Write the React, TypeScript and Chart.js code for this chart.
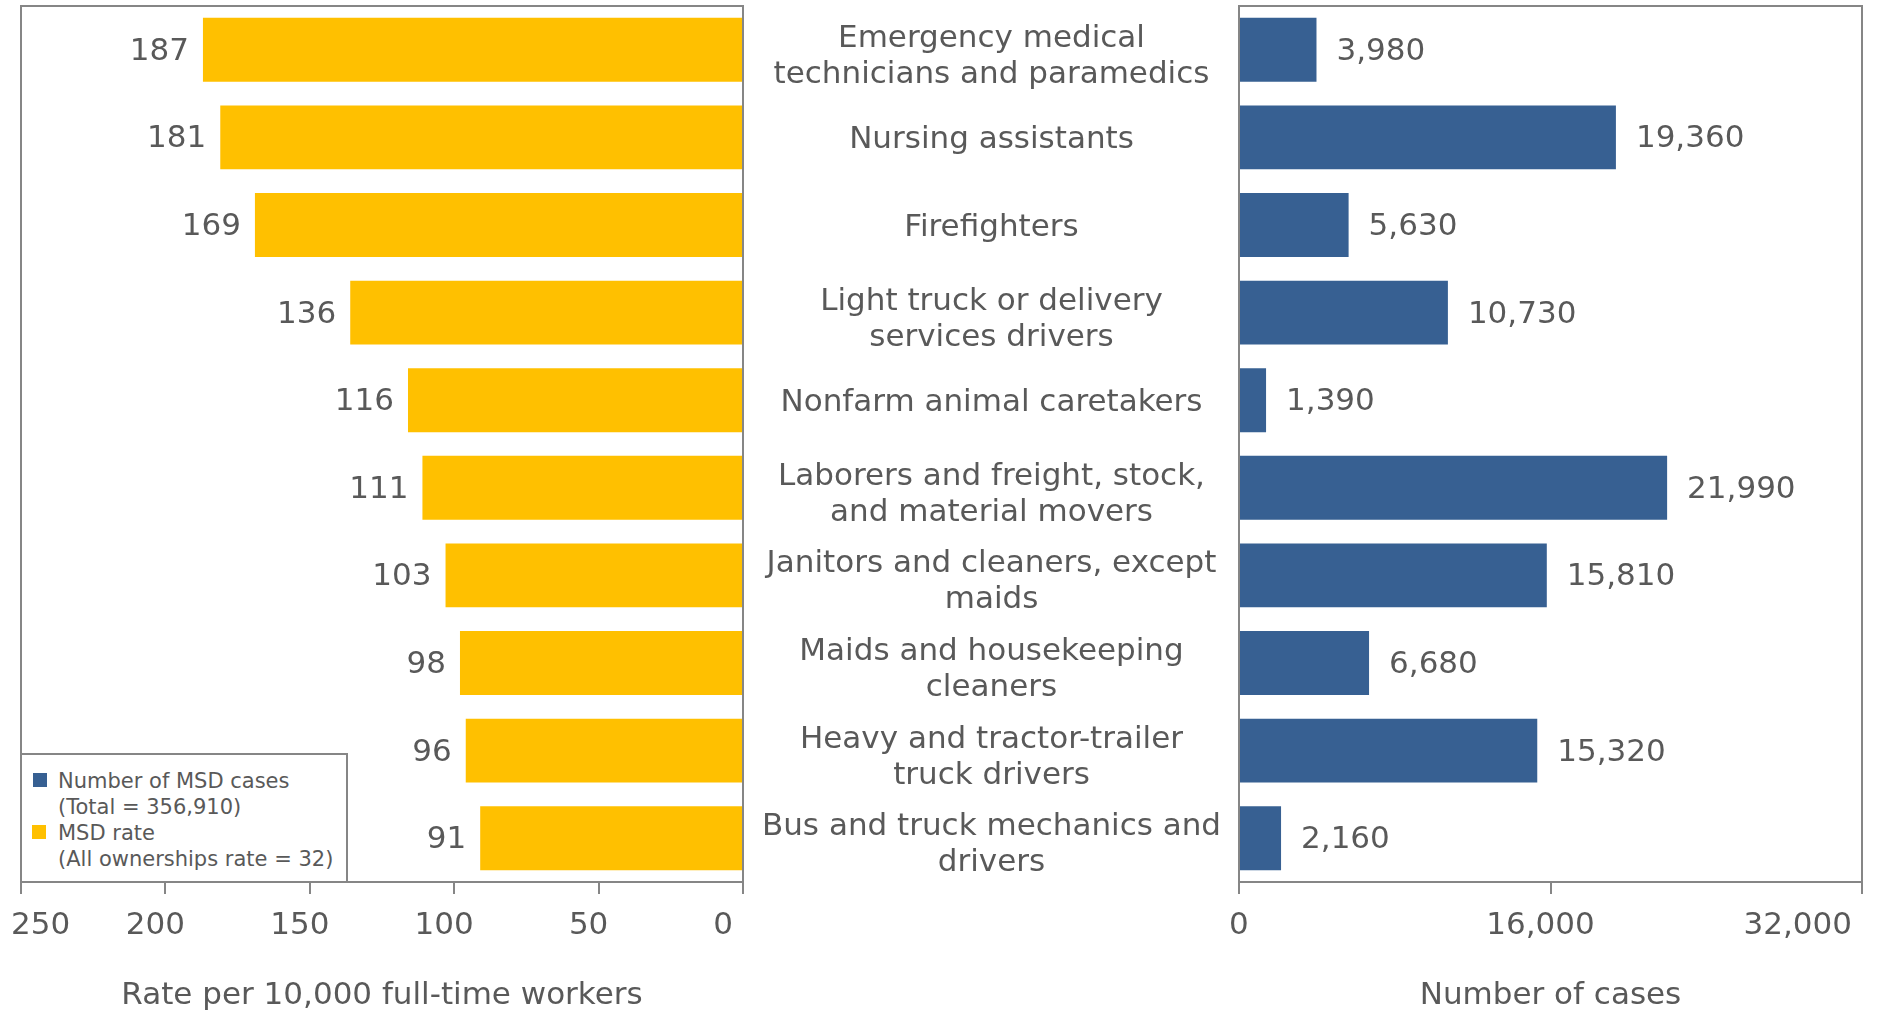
import React, { useEffect, useRef } from 'react';
import { Chart, registerables } from 'chart.js';

Chart.register(...registerables);

// ---------- data ----------
const categories: string[][] = [
  ['Emergency medical', 'technicians and paramedics'],
  ['Nursing assistants'],
  ['Firefighters'],
  ['Light truck or delivery', 'services drivers'],
  ['Nonfarm animal caretakers'],
  ['Laborers and freight, stock,', 'and material movers'],
  ['Janitors and cleaners, except', 'maids'],
  ['Maids and housekeeping', 'cleaners'],
  ['Heavy and tractor-trailer', 'truck drivers'],
  ['Bus and truck mechanics and', 'drivers'],
];
const msdRate: number[] = [187, 181, 169, 136, 116, 111, 103, 98, 96, 91];
const msdCases: number[] = [3980, 19360, 5630, 10730, 1390, 21990, 15810, 6680, 15320, 2160];
const rateTicks: number[] = [0, 50, 100, 150, 200, 250];
const caseTicks: number[] = [0, 16000, 32000];
const rateAxisTitle = 'Rate per 10,000 full-time workers';
const caseAxisTitle = 'Number of cases';
const legendCases = ['Number of MSD cases', '(Total = 356,910)'];
const legendRate = ['MSD rate', '(All ownerships rate = 32)'];

// ---------- styles ----------
const GOLD = '#FFC000';
const BLUE = '#376092';
const TEXT = '#595959';
const LINE = '#868686';
const FONT = '"DejaVu Sans", Verdana, sans-serif';
const FS = 31;

const fmt = (v: number) => v.toLocaleString('en-US');

const framePlugin = {
  id: 'frame',
  afterDraw(chart: any) {
    const { ctx, chartArea } = chart;
    const { left, top, right, bottom } = chartArea;
    ctx.save();
    ctx.strokeStyle = LINE;
    ctx.lineWidth = 2;
    ctx.strokeRect(left, top, right - left, bottom - top);
    ctx.restore();
  },
};

const valueLabelPlugin = (side: 'left' | 'right') => ({
  id: 'valueLabels',
  afterDatasetsDraw(chart: any) {
    const { ctx } = chart;
    const meta = chart.getDatasetMeta(0);
    const data = chart.data.datasets[0].data as number[];
    ctx.save();
    ctx.font = `${FS}px ${FONT}`;
    ctx.fillStyle = TEXT;
    ctx.textBaseline = 'middle';
    meta.data.forEach((bar: any, i: number) => {
      const label = fmt(data[i]);
      if (side === 'left') {
        ctx.textAlign = 'right';
        ctx.fillText(label, bar.x - 14, bar.y + 2);
      } else {
        ctx.textAlign = 'left';
        ctx.fillText(label, bar.x + 20, bar.y + 2);
      }
    });
    ctx.restore();
  },
});

const categoryLabelPlugin = {
  id: 'categoryLabels',
  afterDraw(chart: any) {
    const { ctx, chartArea } = chart;
    const yScale = chart.scales.y;
    const cx = chartArea.left / 2;
    const lh = 36;
    ctx.save();
    ctx.font = `${FS}px ${FONT}`;
    ctx.fillStyle = TEXT;
    ctx.textAlign = 'center';
    ctx.textBaseline = 'middle';
    categories.forEach((lines, i) => {
      const yc = yScale.getPixelForValue(i);
      const start = yc - ((lines.length - 1) * lh) / 2 + (lines.length > 1 ? 7 : 3);
      lines.forEach((t, j) => ctx.fillText(t, cx, start + j * lh));
    });
    ctx.restore();
  },
};

const H = 1011;
const AXIS_H = 129;

function makeXScale(min: number, max: number, tickValues: number[], reverse: boolean, title: string) {
  return {
    type: 'linear',
    min,
    max,
    reverse,
    position: 'bottom',
    afterBuildTicks: (scale: any) => {
      scale.ticks = tickValues.map((v) => ({ value: v }));
    },
    afterFit: (scale: any) => {
      scale.height = AXIS_H;
    },
    ticks: {
      font: { family: FONT, size: FS },
      color: TEXT,
      padding: 13,
      align: 'inner',
      labelOffset: -10,
      autoSkip: false,
      maxRotation: 0,
      callback: (v: any) => fmt(Number(v)),
    },
    grid: {
      drawOnChartArea: false,
      drawTicks: true,
      tickLength: 12,
      color: LINE,
      lineWidth: 2,
    },
    border: { display: true, color: LINE, width: 2 },
    title: {
      display: true,
      text: title,
      font: { family: FONT, size: FS, lineHeight: 1.0 },
      color: TEXT,
      padding: { top: 0, bottom: 0 },
    },
  };
}

function makeYScale(position: 'left' | 'right') {
  return {
    type: 'category',
    position,
    ticks: { display: false },
    grid: { display: false, drawTicks: false },
    border: { display: true, color: LINE, width: 2 },
  };
}

export default function App() {
  const leftRef = useRef<HTMLCanvasElement | null>(null);
  const rightRef = useRef<HTMLCanvasElement | null>(null);

  useEffect(() => {
    const labels = categories.map((c) => c.join(' '));
    const left = new Chart(leftRef.current as HTMLCanvasElement, {
      type: 'bar',
      data: {
        labels,
        datasets: [
          {
            label: 'MSD rate',
            data: msdRate,
            backgroundColor: GOLD,
            barPercentage: 0.73,
            categoryPercentage: 1,
          },
        ],
      },
      options: {
        indexAxis: 'y',
        animation: false,
        responsive: false,
        maintainAspectRatio: false,
        layout: { padding: { left: 21, right: 17, top: 6, bottom: 0 } },
        plugins: { legend: { display: false }, tooltip: { enabled: false } },
        scales: {
          x: makeXScale(0, 250, rateTicks, true, rateAxisTitle) as any,
          y: makeYScale('right') as any,
        },
      },
      plugins: [framePlugin, valueLabelPlugin('left')],
    });

    const right = new Chart(rightRef.current as HTMLCanvasElement, {
      type: 'bar',
      data: {
        labels,
        datasets: [
          {
            label: 'Number of MSD cases',
            data: msdCases,
            backgroundColor: BLUE,
            barPercentage: 0.73,
            categoryPercentage: 1,
          },
        ],
      },
      options: {
        indexAxis: 'y',
        animation: false,
        responsive: false,
        maintainAspectRatio: false,
        layout: { padding: { left: 495, right: 15, top: 6, bottom: 0 } },
        plugins: { legend: { display: false }, tooltip: { enabled: false } },
        scales: {
          x: makeXScale(0, 32000, caseTicks, false, caseAxisTitle) as any,
          y: makeYScale('left') as any,
        },
      },
      plugins: [framePlugin, valueLabelPlugin('right'), categoryLabelPlugin],
    });

    return () => {
      left.destroy();
      right.destroy();
    };
  }, []);

  const legendText: React.CSSProperties = {
    position: 'absolute',
    left: 36,
    whiteSpace: 'nowrap',
    lineHeight: '26px',
    height: 26,
  };

  return (
    <div
      style={{
        position: 'absolute',
        left: 0,
        top: 0,
        width: 1877,
        height: H,
        overflow: 'hidden',
        background: '#ffffff',
      }}
    >
      <canvas
        ref={leftRef}
        width={760}
        height={H}
        style={{ position: 'absolute', left: 0, top: 0, width: 760, height: H }}
      />
      <canvas
        ref={rightRef}
        width={1133}
        height={H}
        style={{ position: 'absolute', left: 744, top: 0, width: 1133, height: H }}
      />
      <div
        style={{
          position: 'absolute',
          left: 20,
          top: 753,
          width: 328,
          height: 130,
          boxSizing: 'border-box',
          border: `2px solid ${LINE}`,
          background: '#ffffff',
          fontFamily: FONT,
          fontSize: 21,
          color: TEXT,
        }}
      >
        <div style={{ position: 'absolute', left: 11, top: 18, width: 14, height: 14, background: BLUE }} />
        <div style={{ ...legendText, top: 13 }}>{legendCases[0]}</div>
        <div style={{ ...legendText, top: 39 }}>{legendCases[1]}</div>
        <div style={{ position: 'absolute', left: 10, top: 70, width: 14, height: 14, background: GOLD }} />
        <div style={{ ...legendText, top: 65 }}>{legendRate[0]}</div>
        <div style={{ ...legendText, top: 91 }}>{legendRate[1]}</div>
      </div>
    </div>
  );
}
